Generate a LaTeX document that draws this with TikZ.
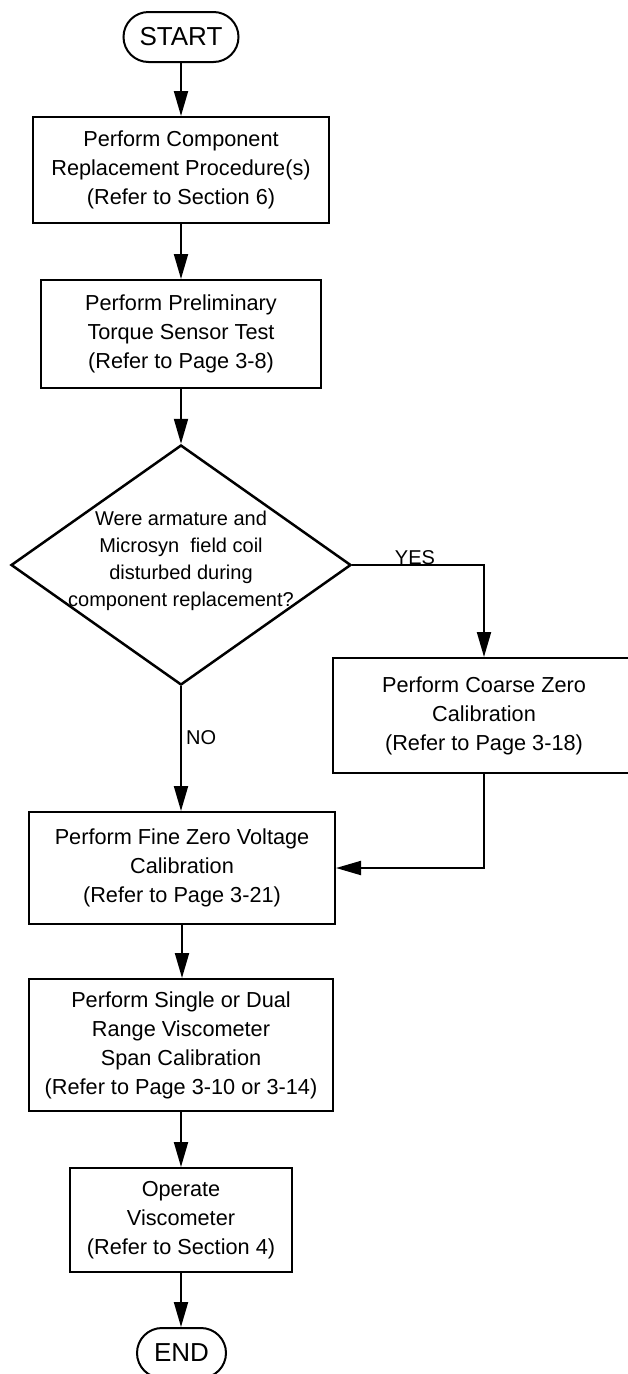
\documentclass[tikz,border=0pt]{standalone}
\usepackage{fontspec}
\setmainfont{Liberation Sans}
\usetikzlibrary{arrows.meta,shapes.geometric}
\newcommand{\boxfont}{\fontsize{21.7pt}{29pt}\selectfont}
\newcommand{\dfont}{\fontsize{20pt}{27pt}\selectfont}
\newcommand{\tfont}{\fontsize{26pt}{30pt}\selectfont}
\begin{document}
\begin{tikzpicture}[x=1pt,y=-1pt,
  stepbox/.style={draw, line width=2pt, rectangle, inner sep=0pt, align=center, font=\boxfont},
  term/.style={draw, line width=2pt, rounded corners=25pt, inner sep=0pt, font=\tfont, minimum height=50pt},
  arr/.style={line width=2pt, -{Triangle[length=25pt,width=14pt]}},
  lbl/.style={inner sep=0pt, font=\dfont}
]
\useasboundingbox (0,0) rectangle (627,1374);

\node[term, minimum width=115pt] (start) at (181,37) {START};
\node[stepbox, minimum width=296pt, minimum height=106pt] (b1) at (181,170)
  {Perform Component\\Replacement Procedure(s)\\(Refer to Section 6)};
\node[stepbox, minimum width=280pt, minimum height=108pt] (b2) at (181,334)
  {Perform Preliminary\\Torque Sensor Test\\(Refer to Page 3-8)};
\node[diamond, draw, line width=2.5pt, minimum width=340pt, minimum height=240pt, inner sep=0pt] (d) at (181,565) {};
\node[lbl, align=center] (dt) at (181,561)
  {Were armature and\\Microsyn~ field coil\\disturbed during\\component replacement?};
\node[stepbox, minimum width=302pt, minimum height=115pt] (coarse) at (484,715.5)
  {Perform Coarse Zero\\Calibration\\(Refer to Page 3-18)};
\node[stepbox, minimum width=306pt, minimum height=112pt] (fine) at (182,868)
  {Perform Fine Zero Voltage\\Calibration\\(Refer to Page 3-21)};
\node[stepbox, minimum width=304pt, minimum height=132pt] (span) at (181,1045)
  {Perform Single or Dual\\Range Viscometer\\Span Calibration\\(Refer to Page 3-10 or 3-14)};
\node[stepbox, minimum width=222pt, minimum height=104pt] (op) at (181,1220)
  {Operate\\Viscometer\\(Refer to Section 4)};
\node[term, minimum width=89pt] (end) at (181.5,1353) {END};

\draw[arr] (start.south) -- (start.south |- b1.north);
\draw[arr] (b1.south) -- (b1.south |- b2.north);
\draw[arr] (b2.south) -- (d.north);
\draw[arr] (d.east) -| (coarse.north);
\node[lbl, anchor=base] (yes) at (415,564) {YES};
\draw[arr] (d.south) -- (d.south |- fine.north);
\node[lbl, anchor=west] (no) at (186,738) {NO};
\draw[arr] (coarse.south) |- (fine.east);
\draw[arr] (fine.south) -- (fine.south |- span.north);
\draw[arr] (span.south) -- (span.south |- op.north);
\draw[arr] (op.south) -- (op.south |- end.north);
\end{tikzpicture}
\end{document}
